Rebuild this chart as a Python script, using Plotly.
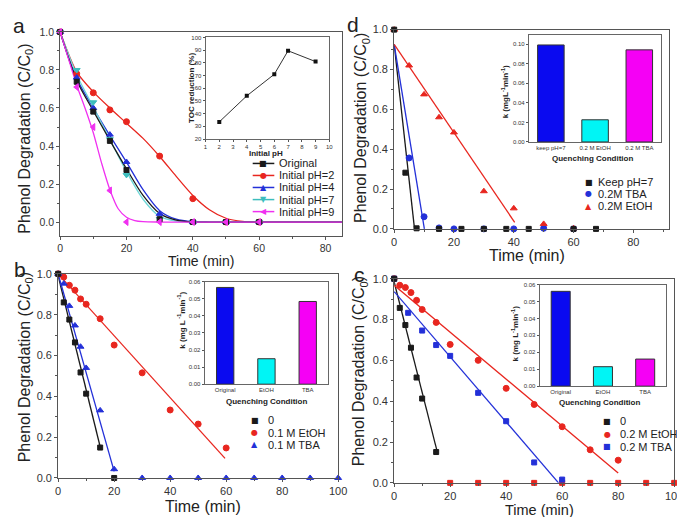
import plotly.graph_objects as go

W, H = 685, 517
FONT = "Arial, Liberation Sans, sans-serif"

BLACK = "#1a1a1a"
RED = "#e8261f"
BLUE = "#2330d8"
CYAN = "#3dbdbd"
MAGENTA = "#f030f0"

# ---- panel a: effect of initial pH ----
a_t = [0, 5, 10, 15, 20, 30, 40, 50, 60]
a_orig = [1.0, 0.738, 0.581, 0.427, 0.274, 0.015, 0.0, 0.0, 0.0]
a_ph2 = [1.0, 0.78, 0.68, 0.59, 0.528, 0.347, 0.123, 0.0, 0.0]
a_ph4 = [1.0, 0.76, 0.60, 0.46, 0.316, 0.043, 0.0, 0.0, 0.0]
a_ph7 = [1.0, 0.80, 0.63, 0.436, 0.248, 0.017, 0.0, 0.0, 0.0]
a_ph9 = [1.0, 0.71, 0.50, 0.166, 0.0, 0.0, 0.0, 0.0, 0.0]

# fitted curves
fit_t = [0, 5, 10, 15, 20, 25, 30, 35, 40, 45, 50, 55, 60, 85]
fit_orig = [1.0, 0.745, 0.585, 0.43, 0.28, 0.14, 0.045, 0.01, 0.0, 0.0, 0.0, 0.0, 0.0, 0.0]
fit_ph2 = [1.0, 0.79, 0.685, 0.6, 0.52, 0.44, 0.345, 0.24, 0.14, 0.065, 0.02, 0.003, 0.0, 0.0]
fit_ph4 = [1.0, 0.755, 0.6, 0.455, 0.315, 0.17, 0.06, 0.015, 0.002, 0.0, 0.0, 0.0, 0.0, 0.0]
fit_ph7 = [1.0, 0.775, 0.605, 0.435, 0.265, 0.12, 0.03, 0.005, 0.0, 0.0, 0.0, 0.0, 0.0, 0.0]
fit9_t = [0, 2.5, 5, 7.5, 10, 12.5, 15, 17.5, 20, 22.5, 25, 30, 85]
fit_ph9 = [1.0, 0.86, 0.72, 0.6, 0.47, 0.31, 0.17, 0.07, 0.025, 0.008, 0.002, 0.0, 0.0]

# inset a: TOC reduction
toc_ph = [2, 4, 6, 7, 9]
toc_red = [33.5, 54, 71, 89.5, 81]

# ---- panel b: 0.1 M quenchers ----
b_zero_t = [0, 2, 4, 6, 8, 10, 15, 20]
b_zero = [1.0, 0.86, 0.776, 0.664, 0.517, 0.413, 0.149, 0.0]
b_etoh_t = [0, 2, 4, 6, 8, 10, 15, 20, 30, 40, 50, 60]
b_etoh = [1.0, 0.984, 0.944, 0.92, 0.877, 0.851, 0.78, 0.651, 0.515, 0.333, 0.264, 0.147]
b_tba_t = [0, 2, 4, 6, 8, 10, 15, 20, 30, 40, 50, 60, 70, 80, 90, 100]
b_tba = [1.0, 0.952, 0.843, 0.747, 0.643, 0.539, 0.331, 0.043, 0, 0, 0, 0, 0, 0, 0, 0]
b_fit_zero = ([0, 15], [0.99, 0.153])
b_fit_etoh = ([0, 59.6], [1.0, 0.096])
b_fit_tba = ([0, 20], [1.0, 0.032])
cond_b = ["Original", "EtOH", "TBA"]
k_b = [0.0566, 0.0149, 0.0484]

# ---- panel c: 0.2 M quenchers ----
c_zero_t = [0, 2, 4, 6, 8, 10, 15]
c_zero = [1.0, 0.857, 0.773, 0.662, 0.516, 0.413, 0.151]
c_etoh_t = [0, 2, 4, 6, 8, 10, 15, 20, 30, 40, 50, 60, 70, 80]
c_etoh = [1.0, 0.968, 0.957, 0.932, 0.894, 0.849, 0.786, 0.678, 0.6, 0.463, 0.384, 0.275, 0.162, 0.111]
c_tail_t = [20, 30, 40, 50, 60, 70, 80, 90, 100]
c_tail = [0, 0, 0, 0, 0, 0, 0, 0, 0]
c_tba_t = [0, 5, 10, 15, 20, 30, 40, 50, 60]
c_tba = [1.0, 0.833, 0.746, 0.675, 0.622, 0.441, 0.302, 0.1, 0.016]
c_fit_zero = ([0, 15.5], [0.984, 0.146])
c_fit_etoh = ([0, 80], [0.968, 0.048])
c_fit_tba = ([0, 58.7], [0.937, 0.0])
cond_c = ["Original", "EtOH", "TBA"]
k_c = [0.056, 0.0115, 0.016]

# ---- panel d: pH kept at 7 ----
d_keep_t = [0, 3.75, 7.5, 15, 22.5, 30, 37.5, 45, 60, 67.5]
d_keep = [1.0, 0.282, 0.003, 0, 0, 0, 0, 0, 0, 0]
d_tba_t = [5, 10, 15, 20, 30, 40, 50, 60]
d_tba = [0.356, 0.061, 0.005, 0, 0, 0, 0.003, 0]
d_etoh_t = [0, 5, 10, 15, 20, 30, 40, 50, 60]
d_etoh = [1.0, 0.82, 0.675, 0.56, 0.484, 0.189, 0.103, 0.025, 0.003]
d_fit_keep = ([0, 6.8], [0.926, 0.0])
d_fit_tba = ([0, 10.1], [0.926, 0.0])
d_fit_etoh = ([0, 40.3], [0.926, 0.033])
cond_d = ["keep pH=7", "0.2 M EtOH", "0.2 M TBA"]
k_d = [0.0993, 0.0227, 0.0943]
bar_colors = ["#0a0af0", "#00f5f5", "#f500f5"]


def fx(p):
    return p / W


def fy(p):
    return 1 - p / H


fig = go.Figure()


def pts(x, y, color, symbol, xa, ya, size=6):
    fig.add_trace(go.Scatter(
        x=x, y=y, mode="markers", xaxis=xa, yaxis=ya, cliponaxis=False,
        marker=dict(color=color, symbol=symbol, size=size, line=dict(color=color, width=1)),
        showlegend=False))


def curve(x, y, color, xa, ya, shape="linear", width=1.3):
    fig.add_trace(go.Scatter(
        x=x, y=y, mode="lines", xaxis=xa, yaxis=ya, cliponaxis=False,
        line=dict(color=color, width=width, shape=shape, smoothing=0.8),
        showlegend=False, hoverinfo="skip"))


# panel a
curve(fit_t, fit_ph2, RED, "x", "y", "spline")
curve(fit_t, fit_ph4, BLUE, "x", "y", "spline")
curve(fit_t, fit_ph7, "#6fd8d8", "x", "y", "spline")
curve(fit_t, fit_orig, BLACK, "x", "y", "spline")
curve(fit9_t, fit_ph9, MAGENTA, "x", "y", "spline")
pts(a_t, a_ph2, RED, "circle", "x", "y")
pts(a_t, a_ph4, BLUE, "triangle-up", "x", "y")
pts(a_t, a_ph7, CYAN, "triangle-down", "x", "y")
pts(a_t, a_orig, BLACK, "square", "x", "y", 5)
pts(a_t, a_ph9, MAGENTA, "triangle-left", "x", "y")

# inset a
fig.add_trace(go.Scatter(x=toc_ph, y=toc_red, mode="lines+markers", xaxis="x2", yaxis="y2",
                         line=dict(color="#333", width=1), marker=dict(symbol="square", size=4, color="#111"),
                         showlegend=False))

# panel d
curve(*d_fit_keep, BLACK, "x3", "y3")
curve(*d_fit_tba, BLUE, "x3", "y3")
curve(*d_fit_etoh, RED, "x3", "y3")
pts(d_tba_t, d_tba, BLUE, "circle", "x3", "y3")
pts(d_etoh_t, d_etoh, RED, "triangle-up", "x3", "y3")
pts(d_keep_t, d_keep, BLACK, "square", "x3", "y3", 5)

fig.add_trace(go.Bar(x=cond_d, y=k_d, xaxis="x4", yaxis="y4", width=0.6,
                     marker=dict(color=bar_colors, line=dict(color="#333", width=1)), showlegend=False))

# panel b
curve(*b_fit_zero, BLACK, "x5", "y5")
curve(*b_fit_etoh, RED, "x5", "y5")
curve(*b_fit_tba, BLUE, "x5", "y5")
pts(b_etoh_t, b_etoh, RED, "circle", "x5", "y5")
pts(b_tba_t, b_tba, BLUE, "triangle-up", "x5", "y5")
pts(b_zero_t, b_zero, BLACK, "square", "x5", "y5", 5)

fig.add_trace(go.Bar(x=cond_b, y=k_b, xaxis="x6", yaxis="y6", width=0.42,
                     marker=dict(color=bar_colors, line=dict(color="#333", width=1)), showlegend=False))

# panel c
curve(*c_fit_zero, BLACK, "x7", "y7")
curve(*c_fit_etoh, RED, "x7", "y7")
curve(*c_fit_tba, BLUE, "x7", "y7")
pts(c_etoh_t, c_etoh, RED, "circle", "x7", "y7")
pts(c_tail_t, c_tail, RED, "square", "x7", "y7", 5)
pts(c_tba_t, c_tba, BLUE, "square", "x7", "y7", 5)
pts(c_zero_t, c_zero, BLACK, "square", "x7", "y7", 5)

fig.add_trace(go.Bar(x=cond_c, y=k_c, xaxis="x8", yaxis="y8", width=0.45,
                     marker=dict(color=bar_colors, line=dict(color="#333", width=1)), showlegend=False))


def main_axis(dom, rng, dtick, minor, anchor, fmt=None, size=11):
    return dict(domain=dom, range=rng, dtick=dtick, tick0=0, anchor=anchor,
                showline=True, linecolor="#555", linewidth=1, mirror=True,
                ticks="outside", ticklen=3, tickcolor="#555",
                minor=dict(ticks="outside", ticklen=2, dtick=minor, tickcolor="#555"),
                tickfont=dict(size=size, color="#333"), tickformat=fmt,
                showgrid=False, zeroline=False)


def inset_axis(dom, rng, anchor, dtick=None, fmt=None, ticks="outside"):
    return dict(domain=dom, range=rng, dtick=dtick, anchor=anchor,
                showline=True, linecolor="#666", linewidth=1, mirror=True,
                ticks=ticks, ticklen=2, tickcolor="#555",
                tickfont=dict(size=6, color="#333"), tickformat=fmt,
                showgrid=False, zeroline=False)


layout_axes = dict(
    xaxis=main_axis([fx(50), fx(337)], [0, 85], 20, 10, "y", size=10.5),
    yaxis=main_axis([fy(227), fy(18)], [-0.072, 1.002], 0.2, 0.1, "x", ".1f", size=10.5),
    xaxis2=inset_axis([fx(198), fx(324)], [1, 10], "y2", 1),
    yaxis2=inset_axis([fy(128), fy(24)], [20, 100], "x2", 10),
    xaxis3=main_axis([fx(390), fx(670)], [0, 92], 20, 10, "y3"),
    yaxis3=main_axis([fy(220), fy(16)], [0, 1.0], 0.2, 0.1, "x3", ".1f"),
    xaxis4=inset_axis([fx(527), fx(662)], [-0.5, 2.5], "y4", ticks=""),
    yaxis4=inset_axis([fy(131), fy(21)], [0, 0.11], "x4", 0.02, ".2f"),
    xaxis5=main_axis([fx(48), fx(333)], [0, 100], 20, 10, "y5"),
    yaxis5=main_axis([fy(475), fy(266)], [0, 1.0], 0.2, 0.1, "x5", ".1f"),
    xaxis6=inset_axis([fx(197), fx(323)], [-0.5, 2.5], "y6", ticks=""),
    yaxis6=inset_axis([fy(379), fy(274)], [0, 0.06], "x6", 0.01, ".2f"),
    xaxis7=main_axis([fx(390), fx(675)], [0, 100], 20, 10, "y7"),
    yaxis7=main_axis([fy(480), fy(271)], [0, 1.0], 0.2, 0.1, "x7", ".1f"),
    xaxis8=inset_axis([fx(538), fx(667)], [-0.5, 2.5], "y8", ticks=""),
    yaxis8=inset_axis([fy(381), fy(277)], [0, 0.06], "x8", 0.01, ".2f"),
)

ann = []


def text(x, y, s, size, angle=0, anchor="center", bold=False, color="#222", family=FONT):
    if bold:
        s = "<b>" + s + "</b>"
    ann.append(dict(x=fx(x), y=fy(y), xref="paper", yref="paper", text=s, showarrow=False,
                    textangle=angle, xanchor=anchor, yanchor="middle", borderpad=0,
                    font=dict(size=size, color=color, family=family)))


# panel letters
text(8, 12, "a", 21)
text(9, 262, "b", 21)
text(355, 267, "c", 21)
text(348, 11, "d", 21)

ytitle = "Phenol Degradation (C/C<sub>0</sub>)"
text(14, 128, ytitle, 16, -90)
text(15, 362, ytitle, 16, -90)
text(355, 366, ytitle, 16, -90)
text(357, 117, ytitle, 16, -90)
text(193, 253, "Time (min)", 14)
text(195, 504, "Time (min)", 16)
text(538, 507.5, "Time (min)", 14.5)
text(525, 247, "Time (min)", 16)

# inset titles
text(183, 76, "TOC reduction (%)", 8, -90, bold=True)
text(260, 143, "Initial pH", 8, bold=True)
text(503, 80, "k (mgL<sup>-1</sup>min<sup>-1</sup>)", 8, -90, bold=True)
text(592, 148, "Quenching Condition", 8, bold=True)
text(173, 313, "k (mg L<sup> -1</sup>min<sup>-1</sup>)", 8, -90, bold=True)
text(260, 397, "Quenching Condition", 8, bold=True)
text(513, 327, "k (mg L<sup>-1</sup>min<sup>-1</sup>)", 8, -90, bold=True)
text(599, 398, "Quenching Condition", 8, bold=True)

# legends drawn by hand so the rows sit as tight as in the figure
shapes = []
GLYPH = "DejaVu Sans"
leg_a = [("Original", BLACK, "■", 153), ("Initial pH=2", RED, "●", 165.3),
         ("Initial pH=4", BLUE, "▲", 177.6), ("Initial pH=7", CYAN, "▼", 190),
         ("Initial pH=9", MAGENTA, "◀", 202.3)]
for label, col, g, y in leg_a:
    shapes.append(dict(type="line", xref="paper", yref="paper", x0=fx(246), x1=fx(268),
                       y0=fy(y), y1=fy(y), line=dict(color=col, width=1.5)))
    text(257, y, g, 8, color=col, family=GLYPH)
    text(272, y, label, 11, anchor="left", color="#222")

leg_b = [("0", BLACK, "■", 416), ("0.1 M EtOH", RED, "●", 428.5), ("0.1 M TBA", BLUE, "▲", 441)]
for label, col, g, y in leg_b:
    text(248, y, g, 8, color=col, family=GLYPH)
    text(261, y, label, 11, anchor="left")

leg_c = [("0", BLACK, "■", 417), ("0.2 M EtOH", RED, "●", 430), ("0.2 M TBA", BLUE, "■", 443)]
for label, col, g, y in leg_c:
    text(607, y, g, 8, color=col, family=GLYPH)
    text(619, y, label, 11, anchor="left")

leg_d = [("Keep pH=7", BLACK, "■", 172), ("0.2M TBA", BLUE, "●", 184), ("0.2M EtOH", RED, "▲", 197)]
for label, col, g, y in leg_d:
    text(588, y, g, 8, color=col, family=GLYPH)
    text(596, y, label, 11, anchor="left")

fig.update_layout(
    width=W, height=H, autosize=False,
    margin=dict(l=0, r=0, t=0, b=0),
    paper_bgcolor="white", plot_bgcolor="rgba(0,0,0,0)",
    font=dict(family=FONT, color="#222"),
    showlegend=False, bargap=0.4,
    annotations=ann, shapes=shapes,
    **layout_axes,
)

fig.write_html("out.html", config={"displayModeBar": False})
